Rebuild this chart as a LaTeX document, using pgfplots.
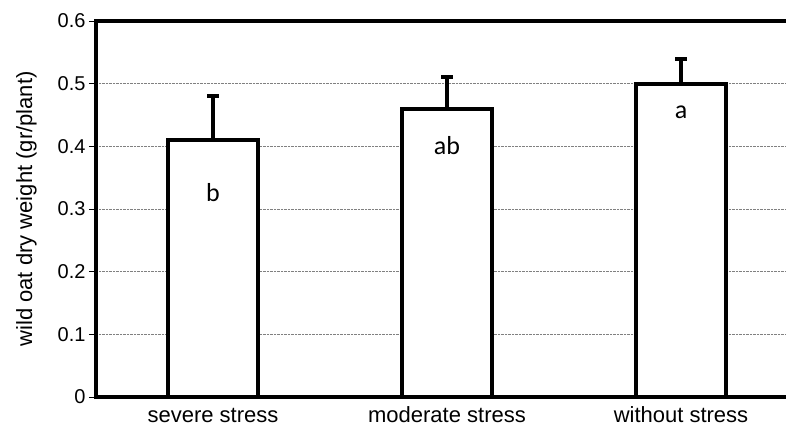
\documentclass[border=0pt]{standalone}
\usepackage{pgfplots}
\pgfplotsset{compat=1.18}
\usepackage{fontspec}
\setmainfont{Liberation Sans}
\newfontfamily\calib{Carlito}
\begin{document}
\begin{tikzpicture}[x=1pt,y=1pt]
\begin{axis}[
  at={(96pt,34pt)}, anchor=south west,
  scale only axis, width=702pt, height=376pt,
  xmin=-0.5, xmax=2.5, ymin=0, ymax=0.6,
  axis line style={line width=4pt},
  tick align=outside,
  ytick={0,0.1,0.2,0.3,0.4,0.5,0.6},
  yticklabels={0,0.1,0.2,0.3,0.4,0.5,0.6},
  yticklabel style={font=\fontsize{20}{24}\selectfont},
  ytick style={line width=0.8pt, black},
  major tick length=7pt,
  ymajorgrids, grid style={densely dotted, gray, line width=0.7pt},
  xtick={0,1,2},
  xticklabels={severe stress, moderate stress, without stress},
  xticklabel style={font=\fontsize{22}{26}\selectfont, text height=16pt, text depth=5pt, yshift=1pt},
  xtick style={draw=none},
  minor xtick={-0.5,0.5,1.5,2.5},
  minor x tick style={line width=0.8pt, black},
  minor tick length=7pt,
  ylabel={wild oat dry weight (gr/plant)},
  ylabel style={font=\fontsize{22}{26}\selectfont, yshift=14pt},
  clip=false,
]
\addplot[ybar, bar width=90pt, draw=black, fill=white, line width=4pt,
  error bars/.cd, y dir=plus, y explicit,
  error mark=|,
  error bar style={line width=4pt, black},
  error mark options={line width=4pt, mark size=6pt, black}]
  coordinates {(0,0.41) +- (0,0.07) (1,0.46) +- (0,0.05) (2,0.50) +- (0,0.04)};
\node[font=\calib\fontsize{26}{30}\selectfont] at (axis cs:0,0.326) {b};
\node[font=\calib\fontsize{26}{30}\selectfont] at (axis cs:1,0.402) {ab};
\node[font=\calib\fontsize{26}{30}\selectfont] at (axis cs:2,0.455) {a};
\end{axis}
\pgfresetboundingbox
\useasboundingbox (0,0) rectangle (786,431);
\end{tikzpicture}
\end{document}
